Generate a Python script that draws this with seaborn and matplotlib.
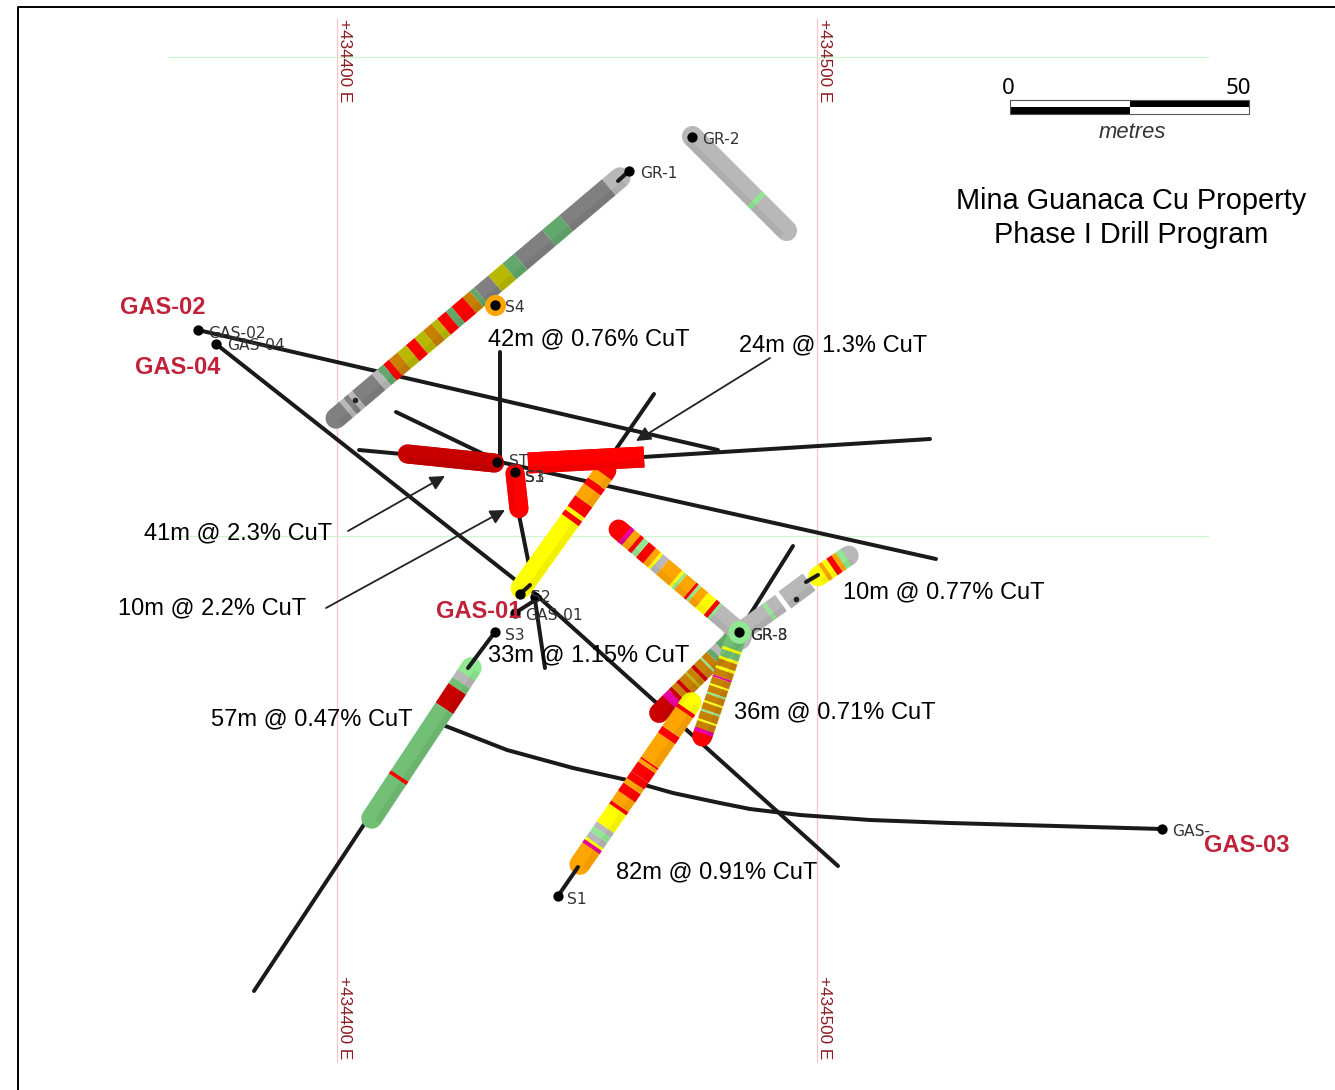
"""Drill plan map, Mina Guanaca Cu Property, Phase I."""

import matplotlib.pyplot as plt
import numpy as np
import seaborn as sns

gridline_x = [337, 817]
gridline_y = [57, 536]
grid_labels = ["+434400 E", "+434500 E"]

# plain traces, drawn black
trace_gas02 = ([198, 718], [330, 450])
trace_gas04 = ([216, 518], [344, 582])
trace_gas01 = ([515, 540], [613, 597])
trace_gas01b = ([533, 838], [592, 866])
trace_gas03_x = [443, 507, 573, 627, 673, 720, 750, 800, 870, 950, 1162]
trace_gas03_y = [725, 750, 768, 780, 793, 803, 809, 815, 820, 823, 829]
trace_s_up = ([500, 500], [352, 462])
trace_s_left = ([396, 500], [412, 462])
trace_s_right = ([500, 936], [462, 559])
trace_west = ([359, 402], [450, 454])
trace_east = ([643, 930], [457, 439])
trace_north = ([654, 612], [394, 455])
trace_s13 = ([519, 529], [515, 565])
trace_s2 = ([535, 545], [600, 668])
trace_s3 = ([495, 468], [632, 668])
trace_s3b = ([365, 254], [823, 991])
trace_s1 = ([558, 578], [896, 867])
trace_gr1 = ([629, 618], [171, 181])
trace_gr3 = ([739, 793], [632, 546])
trace_gr3b = ([806, 818], [582, 575])
trace_yellow = ([520, 530], [594, 585])
traces = [
    trace_gas02, trace_gas04, trace_gas01, trace_gas01b, (trace_gas03_x, trace_gas03_y),
    trace_s_up, trace_s_left, trace_s_right, trace_west, trace_east, trace_north,
    trace_s13, trace_s2, trace_s3b, trace_gr3,
]
# these sit on top of the tubes they enter
collar_traces = [trace_s3, trace_s1, trace_gr1, trace_gr3b, trace_yellow]

# assay tubes: start, end, cumulative % down the tube, grade class, width
gr1_xy = ((628, 171), (328, 425))
gr1_to = [4, 19, 25, 35, 39, 44, 49, 50.5, 53, 57, 59, 62, 64, 67, 70, 73, 76, 79, 81, 83, 85, 92, 93.5, 95, 96.5, 100]
gr1_cl = ["gray", "dgray", "dgreen", "dgray", "dgreen", "olive", "dgray", "dgreen", "dorange", "red", "dgreen", "red",
          "olive", "dorange", "olive", "red", "olive", "dorange", "red", "dgreen", "gray", "dgray", "gray",
          "dgray", "gray", "dgray"]

gr2_xy = ((685, 129), (794, 238))
gr2_to = [66, 70, 100]
gr2_cl = ["gray", "lgreen", "gray"]

s3_xy = ((477, 659), (366, 827))
s3_to = [5, 10, 14, 27, 72, 74, 100]
s3_cl = ["lgreen", "gray", "green", "dred", "green", "red", "green"]

s1_xy = ((574, 873), (697, 694))
s1_to = [10, 12, 13.5, 17, 20, 23, 34, 36, 42, 47, 50, 54, 60, 62, 63, 78, 82, 94, 96, 100]
s1_cl = ["orange", "magenta", "yellow", "gray", "lgreen", "gray", "yellow", "red", "orange", "red", "orange",
         "red", "red", "orange", "red", "orange", "red", "orange", "red", "yellow"]

yellow_xy = ((515, 597), (612, 462))
yellow_to = [58, 62, 65, 74, 84, 89, 97, 100]
yellow_cl = ["yellow", "red", "yellow", "red", "orange", "red", "orange", "red"]

west_xy = ((504, 464), (398, 453))
west_to = [100]
west_cl = ["dred"]

east_xy = ((528, 463), (644, 457))
east_to = [100]
east_cl = ["red"]

s13_xy = ((514, 464), (520, 518))
s13_to = [100]
s13_cl = ["red"]

grul_xy = ((745, 637), (611, 523))
grul_to = [18, 20, 23, 30, 36, 38, 40, 48, 50, 52, 63, 68, 70, 74, 80, 84, 87, 92, 95, 100]
grul_cl = ["gray", "lgreen", "red", "yellow", "orange", "lgreen", "red", "orange", "lgreen", "yellow", "orange",
           "gray", "yellow", "orange", "red", "lgreen", "red", "orange", "magenta", "red"]

grr_xy = ((735, 636), (781, 603))
grr_to = [20, 72, 78, 100]
grr_cl = ["lgreen", "gray", "lgreen", "gray"]

grr2_xy = ((785, 600), (809, 582))
grr2_to = [100]
grr2_cl = ["gray"]

grr3_xy = ((810, 582), (857, 550))
grr3_to = [18, 30, 45, 62, 75, 92, 100]
grr3_cl = ["yellow", "orange", "yellow", "red", "orange", "lgreen", "gray"]

grll_xy = ((741, 632), (652, 720))
grll_to = [15, 22, 27, 34, 36, 44, 48, 54, 56, 64, 68, 74, 78, 86, 100]
grll_cl = ["dgreen", "gray", "dgreen", "dorange", "lgreen", "dorange", "dred", "dorange", "olive", "dorange",
           "dred", "dorange", "dred", "magenta", "dred"]

grlo_xy = ((738, 632), (699, 746))
grlo_to = [8, 11, 18, 21, 28, 31, 38, 40, 47, 49, 56, 58, 65, 67, 74, 76, 84, 86, 93, 97, 100]
grlo_cl = ["green", "yellow", "green", "yellow", "dorange", "yellow", "dorange", "magenta", "dorange", "yellow",
           "dorange", "lgreen", "dorange", "yellow", "dorange", "lgreen", "dorange", "yellow", "dorange", "magenta", "red"]

tubes = [
    (gr1_xy, gr1_to, gr1_cl, 21, "round"), (gr2_xy, gr2_to, gr2_cl, 21, "round"), (s3_xy, s3_to, s3_cl, 21, "round"),
    (grll_xy, grll_to, grll_cl, 20, "round"), (grlo_xy, grlo_to, grlo_cl, 20, "round"),
    (s1_xy, s1_to, s1_cl, 21, "round"), (yellow_xy, yellow_to, yellow_cl, 21, "round"),
    (west_xy, west_to, west_cl, 19, "round"), (east_xy, east_to, east_cl, 21, "butt"),
    (s13_xy, s13_to, s13_cl, 19, "round"), (grul_xy, grul_to, grul_cl, 20, "round"),
    (grr_xy, grr_to, grr_cl, 20, "butt"), (grr2_xy, grr2_to, grr2_cl, 21, "butt"),
    (grr3_xy, grr3_to, grr3_cl, 20, "round"),
]

grade_colours = {
    "gray": "#b8b8b8", "dgray": "#808080", "lgreen": "#90e890", "green": "#72bf76", "dgreen": "#62a86c",
    "yellow": "#ffff00", "olive": "#b8b800", "orange": "#ffa500", "dorange": "#c88000", "red": "#ff0000",
    "dred": "#c80000", "magenta": "#e800a0",
}

collar_x = [629, 692, 495, 198, 216, 520, 515, 535, 495, 558, 739, 1162, 497, 515]
collar_y = [171, 137, 305, 330, 344, 594, 613, 597, 632, 896, 632, 829, 462, 472]
small_collar_x = [355, 796]
small_collar_y = [400, 599]

hole_labels = ["GR-1", "GR-2", "S4", "GAS-02", "GAS-04", "S1", "S2", "GAS-01", "S3", "GR-3", "GR-8", "GAS-", "ST", "S1", "S3"]
hole_label_x = [640, 702, 505, 208, 227, 567, 531, 525, 505, 750, 750, 1172, 509, 525, 525]
hole_label_y = [174, 139, 308, 333, 346, 900, 597, 616, 636, 636, 636, 832, 461, 478, 478]

hole_names = ["GAS-02", "GAS-04", "GAS-01", "GAS-03"]
hole_name_x = [163, 178, 479, 1247]
hole_name_y = [308, 368, 612, 845]

intercepts = ["42m @ 0.76% CuT", "24m @ 1.3% CuT", "41m @ 2.3% CuT", "10m @ 2.2% CuT", "10m @ 0.77% CuT",
              "33m @ 1.15% CuT", "36m @ 0.71% CuT", "57m @ 0.47% CuT", "82m @ 0.91% CuT"]
intercept_x = [589, 833, 238, 212, 944, 589, 835, 312, 717]
intercept_y = [339, 345, 533, 608, 592, 655, 712, 719, 872]

# label-to-tube leaders
leaders = [((770, 358), (636, 441)), ((348, 531), (445, 476)), ((326, 608), (505, 510))]


def px(width):
    return width * 0.72


def draw_tube(ax, xy, to, classes, width, end_cap):
    start, end = np.array(xy[0], dtype=float), np.array(xy[1], dtype=float)
    axis = (end - start) / np.linalg.norm(end - start)
    if end_cap == "round":
        # xy reads the outer tips, a round cap adds half a width
        start, end = start + axis * width / 2, end - axis * width / 2
    last = len(to) - 1
    for i in [0, last] + list(range(1, last)):
        a = (0 if i == 0 else to[i - 1]) / 100
        b = to[i] / 100
        p, q = start + (end - start) * a, start + (end - start) * b
        cap = end_cap if i in (0, last) else "butt"
        sns.lineplot(x=[p[0], q[0]], y=[p[1], q[1]], color=grade_colours[classes[i]], lw=px(width), sort=False,
                     estimator=None, solid_capstyle=cap, ax=ax, legend=False, zorder=3)
    # darker strip on the underside of the tube
    normal = np.array([-axis[1], axis[0]])
    if normal[1] < 0:
        normal = -normal
    p, q = start + normal * width * 0.32, end + normal * width * 0.32
    sns.lineplot(x=[p[0], q[0]], y=[p[1], q[1]], color="black", alpha=0.06, lw=px(width * 0.3), sort=False,
                 estimator=None, solid_capstyle="butt", ax=ax, legend=False, zorder=3.5)


sns.set_theme(style="white")
plt.rcParams["font.family"] = ["Liberation Sans", "DejaVu Sans"]
plt.rcParams["text.color"] = "black"

fig = plt.figure(figsize=(13.35, 10.9), dpi=100)
ax = fig.add_axes([0, 0, 1, 1])
ax.set_xlim(0, 1335)
ax.set_ylim(1090, 0)
ax.axis("off")

# picture frame
ax.plot([18, 18, 1335], [1090, 7, 7], color="black", lw=1.4, zorder=1)

for gx in gridline_x:
    ax.plot([gx, gx], [19, 1062], color="#ffc4c4", lw=0.9, zorder=1)
for gy in gridline_y:
    ax.plot([168, 1208], [gy, gy], color="#ccf7cc", lw=0.9, zorder=1)
for gx, label in zip(gridline_x, grid_labels):
    for ty in (61, 1018):
        ax.text(gx + 8, ty, label, rotation=-90, color="#8b1a20", fontsize=12.3, ha="center", va="center")

for xs, ys in traces:
    sns.lineplot(x=xs, y=ys, color="#1a1a1a", lw=px(4), sort=False, estimator=None,
                 solid_capstyle="round", ax=ax, legend=False, zorder=2)

# hub of the GR holes, under the tubes fanning out from it
sns.scatterplot(x=[737], y=[636], s=420, color=grade_colours["gray"], linewidth=0, ax=ax, legend=False, zorder=2.5)

for xy, to, classes, width, end_cap in tubes:
    draw_tube(ax, xy, to, classes, width, end_cap)

sns.scatterplot(x=[739], y=[632], s=260, color=grade_colours["lgreen"], linewidth=0, ax=ax, legend=False, zorder=4)

for xs, ys in collar_traces:
    sns.lineplot(x=xs, y=ys, color="#1a1a1a", lw=px(4), sort=False, estimator=None,
                 solid_capstyle="round", ax=ax, legend=False, zorder=5)

# S4 has only a collar ring
sns.scatterplot(x=[collar_x[2]], y=[collar_y[2]], s=230, color="#ffa500", linewidth=0, ax=ax, legend=False, zorder=4)
sns.scatterplot(x=collar_x, y=collar_y, s=55, color="black", linewidth=0, ax=ax, legend=False, zorder=5)
sns.scatterplot(x=small_collar_x, y=small_collar_y, s=16, color="#222222", linewidth=0, ax=ax, legend=False, zorder=5)

for label, tx, ty in zip(hole_labels, hole_label_x, hole_label_y):
    ax.text(tx, ty, label, family="DejaVu Sans", fontsize=11.2, color="#333333", va="center", zorder=6)
for name, tx, ty in zip(hole_names, hole_name_x, hole_name_y):
    ax.text(tx, ty, name, fontsize=17, fontweight="bold", color="#c0223a", ha="center", va="center", zorder=7)
for text, tx, ty in zip(intercepts, intercept_x, intercept_y):
    ax.text(tx, ty, text, fontsize=17, color="black", ha="center", va="center", zorder=7)
for tail, head in leaders:
    ax.annotate("", xy=head, xytext=tail, zorder=6,
                arrowprops=dict(arrowstyle="-|>", color="#222222", lw=1.3, mutation_scale=22, shrinkA=0, shrinkB=0))

# scale bar
ax.fill_between([1010, 1130], 107, 114, color="black", lw=0, zorder=3)
ax.fill_between([1130, 1249], 100, 107, color="black", lw=0, zorder=3)
ax.plot([1010, 1249, 1249, 1010, 1010], [100, 100, 114, 114, 100], color="#555555", lw=0.8, zorder=3)
ax.text(1008, 89, "0", family="Noto Sans", fontsize=16, ha="center", va="center")
ax.text(1238, 89, "50", family="Noto Sans", fontsize=16, ha="center", va="center")
ax.text(1132, 133, "metres", fontsize=15.8, style="italic", color="#333333", ha="center", va="center")
ax.text(1131, 201, "Mina Guanaca Cu Property", fontsize=20.8, ha="center", va="center")
ax.text(1131, 235, "Phase I Drill Program", fontsize=20.8, ha="center", va="center")

fig.savefig("out.png", dpi=100)
plt.close(fig)
